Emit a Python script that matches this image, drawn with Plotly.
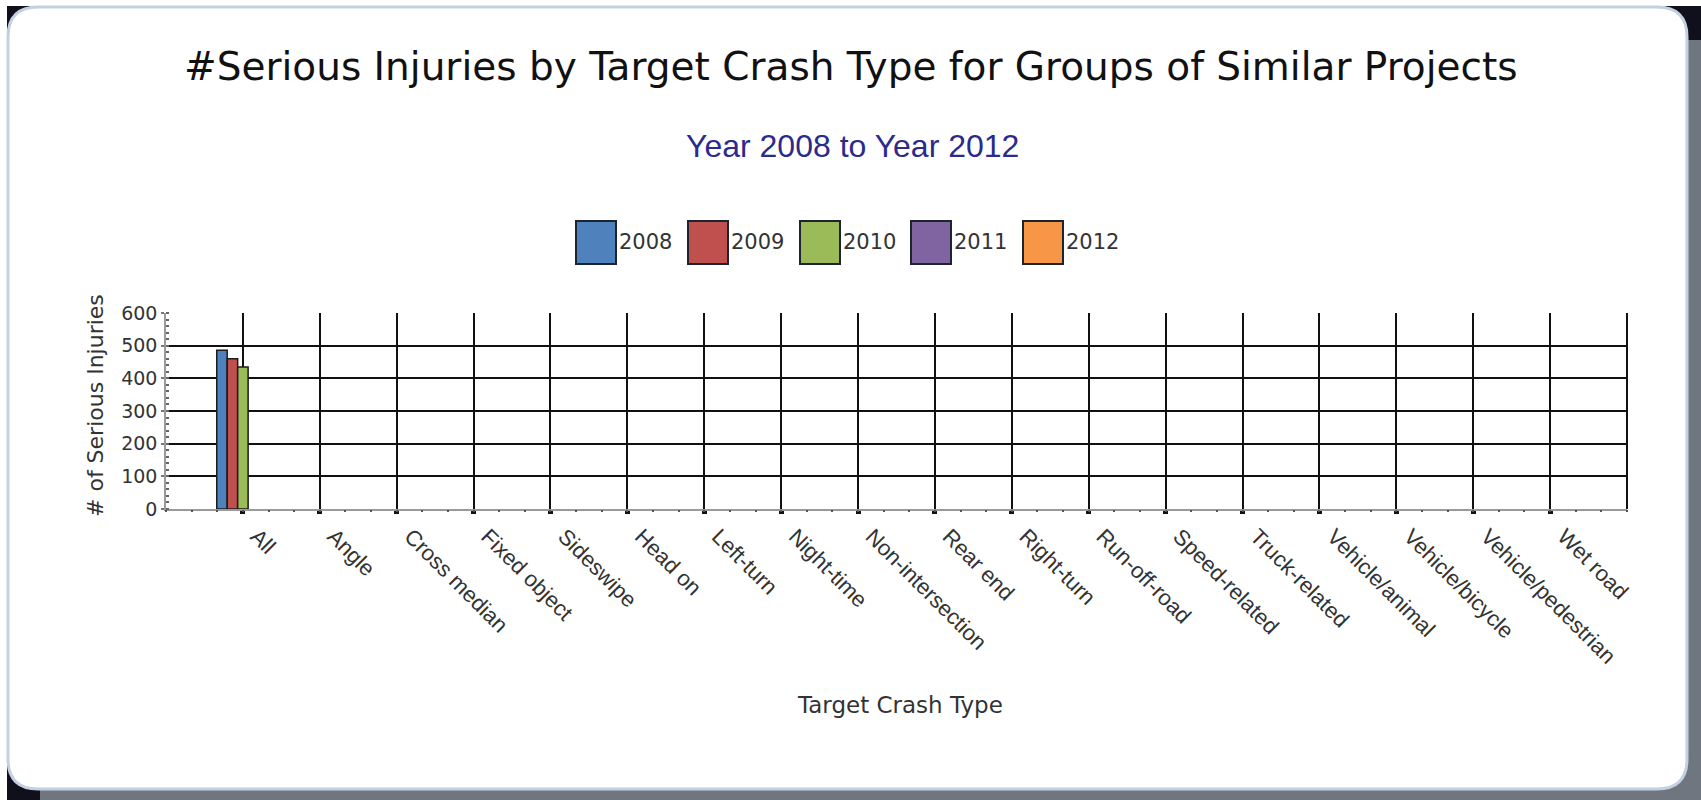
import plotly.graph_objects as go

# Target crash types along the x axis
categories = ["All", "Angle", "Cross median", "Fixed object", "Sideswipe", "Head on",
              "Left-turn", "Night-time", "Non-intersection", "Rear end", "Right-turn",
              "Run-off-road", "Speed-related", "Truck-related", "Vehicle/animal",
              "Vehicle/bicycle", "Vehicle/pedestrian", "Wet road"]

years = ["2008", "2009", "2010", "2011", "2012"]

# Serious injuries per year for each crash type
inj_2008 = [486, 0, 0, 0, 0, 0, 0, 0, 0, 0, 0, 0, 0, 0, 0, 0, 0, 0]
inj_2009 = [460, 0, 0, 0, 0, 0, 0, 0, 0, 0, 0, 0, 0, 0, 0, 0, 0, 0]
inj_2010 = [435, 0, 0, 0, 0, 0, 0, 0, 0, 0, 0, 0, 0, 0, 0, 0, 0, 0]
inj_2011 = [0, 0, 0, 0, 0, 0, 0, 0, 0, 0, 0, 0, 0, 0, 0, 0, 0, 0]
inj_2012 = [0, 0, 0, 0, 0, 0, 0, 0, 0, 0, 0, 0, 0, 0, 0, 0, 0, 0]

series = [inj_2008, inj_2009, inj_2010, inj_2011, inj_2012]
colors = ["#4F81BD", "#C0504D", "#9BBB59", "#8064A2", "#F79646"]

W, H = 1701, 800
ML, MR, MT, MB = 166, 74, 313, 291
PW, PH = W - ML - MR, H - MT - MB


def px(x):
    return (x - ML) / PW


def py(y):
    return (H - MB - y) / PH


fig = go.Figure()
for name, vals, col in zip(years, series, colors):
    fig.add_trace(go.Bar(
        x=categories, y=vals, name=name, xaxis="x", yaxis="y",
        marker=dict(color=col,
                    line=dict(color="#1b1b1b", width=[1.5 if v else 0 for v in vals])),
        showlegend=False,
    ))

# invisible carrier for the minor-tick axis
fig.add_trace(go.Scatter(x=[-1, 18], y=[0, 0], xaxis="x2", yaxis="y",
                         mode="markers", marker=dict(opacity=0), showlegend=False,
                         hoverinfo="skip"))

shapes = []


def rect_path(x0, y0, x1, y1, r):
    pts = [
        f"M{px(x0 + r)},{py(y0)}",
        f"L{px(x1 - r)},{py(y0)}",
        f"Q{px(x1)},{py(y0)} {px(x1)},{py(y0 + r)}",
        f"L{px(x1)},{py(y1 - r)}",
        f"Q{px(x1)},{py(y1)} {px(x1 - r)},{py(y1)}",
        f"L{px(x0 + r)},{py(y1)}",
        f"Q{px(x0)},{py(y1)} {px(x0)},{py(y1 - r)}",
        f"L{px(x0)},{py(y0 + r)}",
        f"Q{px(x0)},{py(y0)} {px(x0 + r)},{py(y0)}",
        "Z",
    ]
    return " ".join(pts)


# window frame: dark corners, grey shadow, white rounded card
shapes.append(dict(type="rect", xref="paper", yref="paper", layer="below",
                   x0=px(7), x1=px(W), y0=py(6), y1=py(H),
                   fillcolor="#10101c", line=dict(width=0)))
shapes.append(dict(type="rect", xref="paper", yref="paper", layer="below",
                   x0=px(40), x1=px(W), y0=py(40), y1=py(H),
                   fillcolor="#70767f", line=dict(width=0)))
shapes.append(dict(type="path", xref="paper", yref="paper", layer="below",
                   path=rect_path(8, 7, 1687, 789, 30),
                   fillcolor="#ffffff", line=dict(color="#c3d0e2", width=3)))

# right border of the plot area
shapes.append(dict(type="line", xref="x domain", yref="y domain", x0=1, x1=1, y0=0, y1=1,
                   line=dict(color="#111111", width=2)))

# legend swatches
annotations = []
leg_x = [576, 688, 800, 911, 1023]
for name, col, lx in zip(years, colors, leg_x):
    shapes.append(dict(type="rect", xref="paper", yref="paper",
                       x0=px(lx), x1=px(lx + 40), y0=py(221), y1=py(264),
                       fillcolor=col, line=dict(color="#1c2430", width=2)))
    annotations.append(dict(text=name, xref="paper", yref="paper", x=px(lx + 41), y=py(242),
                            xanchor="left", yanchor="middle", showarrow=False,
                            font=dict(family="DejaVu Sans", size=21, color="#333333")))

annotations.append(dict(text="#Serious Injuries by Target Crash Type for Groups of Similar Projects",
                        xref="paper", yref="paper", x=px(851), y=py(66),
                        xanchor="center", yanchor="middle", showarrow=False,
                        font=dict(family="DejaVu Sans", size=39, color="#111111")))
annotations.append(dict(text="Year 2008 to Year 2012", xref="paper", yref="paper",
                        x=px(852), y=py(146), xanchor="center", yanchor="middle",
                        showarrow=False,
                        font=dict(family="Liberation Sans", size=32, color="#2b2b8c")))
annotations.append(dict(text="Target Crash Type", xref="paper", yref="paper",
                        x=px(900), y=py(705), xanchor="center", yanchor="middle",
                        showarrow=False,
                        font=dict(family="DejaVu Sans", size=23, color="#333333")))
annotations.append(dict(text="# of Serious Injuries", xref="paper", yref="paper",
                        x=px(95), y=py(406), xanchor="center", yanchor="middle",
                        textangle=-90, showarrow=False,
                        font=dict(family="DejaVu Sans", size=22, color="#333333")))

fig.update_layout(
    width=W, height=H,
    margin=dict(l=ML, r=MR, t=MT, b=MB),
    paper_bgcolor="#ffffff",
    plot_bgcolor="rgba(0,0,0,0)",
    barmode="group",
    bargap=0.32,
    bargroupgap=0,
    showlegend=False,
    shapes=shapes,
    annotations=annotations,
    xaxis=dict(
        type="category", range=[-1, 18],
        showgrid=True, gridcolor="#111111", gridwidth=2,
        showline=True, linecolor="#9a9a9a", linewidth=1.5,
        ticks="outside", ticklen=3, tickwidth=5, tickcolor="#111111",
        tickangle=45, ticklabelshift=14, ticklabelstandoff=1,
        tickfont=dict(family="Liberation Sans", size=22, color="#333333"),
        zeroline=False,
    ),
    xaxis2=dict(
        overlaying="x", range=[-1, 18], showgrid=False, showline=False,
        tickmode="linear", tick0=-1, dtick=1 / 3,
        ticks="outside", ticklen=2, tickwidth=2, tickcolor="#555555",
        showticklabels=False, zeroline=False, anchor="y",
    ),
    yaxis=dict(
        range=[0, 600], tickmode="linear", tick0=0, dtick=100,
        showgrid=True, gridcolor="#111111", gridwidth=2,
        showline=True, linecolor="#9a9a9a", linewidth=1.5,
        ticks="outside", ticklen=3, tickwidth=1.5, tickcolor="#777777",
        minor=dict(dtick=20, ticks="inside", ticklen=3, tickwidth=2, tickcolor="#666666"),
        tickfont=dict(family="DejaVu Sans", size=19, color="#333333"),
        zeroline=False,
    ),
)

fig.write_html("out.html")
